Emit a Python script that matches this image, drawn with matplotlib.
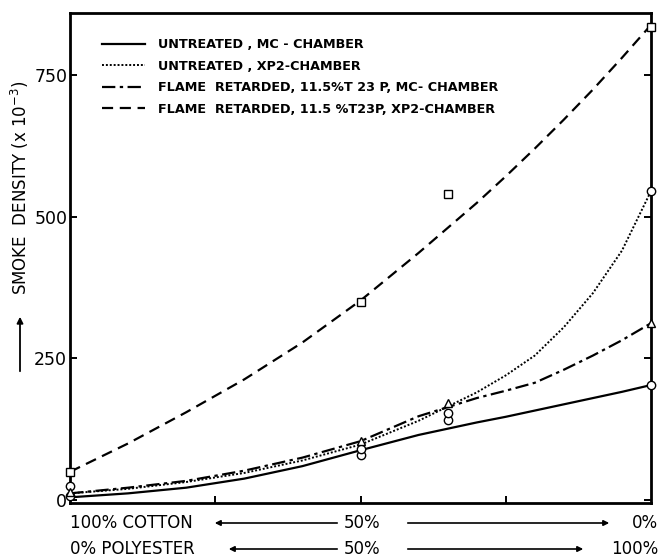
import numpy as np
import matplotlib
matplotlib.use("Agg")
import matplotlib.pyplot as plt

# blend composition, % polyester
curve_x = [0, 10, 20, 30, 40, 50, 60, 70, 75, 80, 85, 90, 95, 100]
untreated_mc_curve = [5, 12, 22, 38, 60, 88, 115, 137, 147, 158, 169, 180, 191, 203]
untreated_xp2_curve = [12, 20, 32, 48, 70, 98, 140, 190, 220, 255, 305, 365, 440, 545]
fr_mc_curve = [12, 22, 34, 52, 75, 104, 148, 180, 193, 207, 230, 255, 282, 312]
fr_xp2_curve = [50, 100, 155, 213, 278, 352, 436, 524, 571, 620, 671, 724, 780, 838]

blend_x = [0, 50, 65, 100]
untreated_mc_pts = [8, 80, 141, 203]
untreated_xp2_pts = [25, 90, 153, 545]
fr_mc_pts = [15, 105, 171, 312]
fr_xp2_pts = [50, 350, 540, 835]

labels = ["UNTREATED , MC - CHAMBER",
          "UNTREATED , XP2-CHAMBER",
          "FLAME  RETARDED, 11.5%T 23 P, MC- CHAMBER",
          "FLAME  RETARDED, 11.5 %T23P, XP2-CHAMBER"]
yticks = [0, 250, 500, 750]

W, H = 661, 559
fig = plt.figure(figsize=(W / 100, H / 100), dpi=100)
ax = fig.add_axes([70 / W, 1 - 503 / H, 581 / W, 490 / H])

lw = 1.6
ax.plot(curve_x, untreated_mc_curve, color="black", lw=lw, ls="-", label=labels[0])
ax.plot(curve_x, untreated_xp2_curve, color="black", lw=1.4, ls=(0, (1, 1)), label=labels[1])
ax.plot(curve_x, fr_mc_curve, color="black", lw=lw, ls=(0, (6, 2, 1.5, 2)), label=labels[2])
ax.plot(curve_x, fr_xp2_curve, color="black", lw=lw, ls=(0, (5, 3)), label=labels[3])

mk = dict(color="black", mfc="white", mew=1.0, ms=6, ls="none", clip_on=False, zorder=5)
ax.plot(blend_x, untreated_mc_pts, marker="o", **mk)
ax.plot(blend_x, untreated_xp2_pts, marker="o", **mk)
ax.plot(blend_x, fr_mc_pts, marker="^", **mk)
ax.plot(blend_x, fr_xp2_pts, marker="s", **mk)

ax.set_xlim(0, 100)
ax.set_ylim(-5, 859)
ax.set_xticks([25, 50, 75])
ax.set_xticklabels([])
ax.set_yticks(yticks)
ax.set_yticklabels([str(v) for v in yticks], fontsize=12.5)
ax.tick_params(direction="in", length=5, width=1.4, right=True, top=False, pad=2)
for s in ax.spines.values():
    s.set_linewidth(2.0)

ax.legend(loc="upper left", bbox_to_anchor=(0.035, 0.972), frameon=False,
          handlelength=3.4, fontsize=9.2, labelspacing=0.66, handletextpad=1.0)
for t in ax.get_legend().get_texts():
    t.set_fontweight("bold")

# y label and arrow
fig.text(20 / W, 1 - 188 / H, "SMOKE  DENSITY (x 10$^{-3}$)", rotation=90,
         ha="center", va="center", fontsize=12)
fig.add_artist(matplotlib.patches.FancyArrowPatch(
    (20 / W, 1 - 374 / H), (20 / W, 1 - 314 / H), transform=fig.transFigure,
    arrowstyle="-|>", mutation_scale=9, lw=1.3, color="black"))

# composition axis
def row(y, left, mid, right, la, ra):
    fig.text(70 / W, 1 - y / H, left, ha="left", va="center", fontsize=12)
    fig.text(362 / W, 1 - y / H, mid, ha="center", va="center", fontsize=12)
    fig.text(658 / W, 1 - y / H, right, ha="right", va="center", fontsize=12)
    for a, b in (la, ra):
        fig.add_artist(matplotlib.patches.FancyArrowPatch(
            (a / W, 1 - y / H), (b / W, 1 - y / H), transform=fig.transFigure,
            arrowstyle="-|>", mutation_scale=8, lw=1.2, color="black"))

row(523, "100% COTTON", "50%", "0%", (340, 212), (405, 612))
row(549, "0% POLYESTER", "50%", "100%", (340, 226), (405, 586))

fig.savefig("out.png", dpi=100)
